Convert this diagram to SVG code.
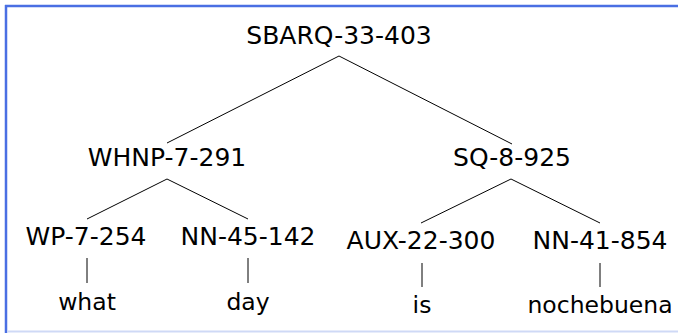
<svg xmlns="http://www.w3.org/2000/svg" width="678" height="333" viewBox="0 0 678 333">
  <style>
    .lbl { font-family: "DejaVu Sans", "Liberation Sans", sans-serif; font-size: 25px; fill: #000; text-anchor: middle; }
    .leaf { font-family: "DejaVu Sans", "Liberation Sans", sans-serif; font-size: 23.5px; fill: #000; text-anchor: middle; }
    .edge { stroke: #000; stroke-width: 1; fill: none; }
  </style>
  <rect width="678" height="333" fill="#fff"/>
  <!-- frame -->
  <line x1="5" y1="6" x2="678" y2="6" stroke="#4a6fe3" stroke-width="2.5"/>
  <line x1="6" y1="5" x2="6" y2="333" stroke="#4a6fe3" stroke-width="2.5"/>
  <line x1="7" y1="331.5" x2="678" y2="331.5" stroke="#cfd9f6" stroke-width="2"/>

  <g id="connectors">
    <polyline class="edge" points="167,143 339,56 512,144"/>
    <polyline class="edge" points="87,219 167,179 248,219"/>
    <polyline class="edge" points="421,223 511,179 600,223"/>
    <line class="edge" x1="87" y1="258" x2="87" y2="283"/>
    <line class="edge" x1="248" y1="258" x2="248" y2="283"/>
    <line class="edge" x1="422" y1="263" x2="422" y2="287"/>
    <line class="edge" x1="600" y1="263" x2="600" y2="287"/>
  </g>

  <g id="n-sbarq"><text class="lbl" x="339" y="44">SBARQ-33-403</text></g>
  <g id="n-whnp"><text class="lbl" x="167" y="166">WHNP-7-291</text></g>
  <g id="n-sq"><text class="lbl" x="512" y="166">SQ-8-925</text></g>
  <g id="n-wp"><text class="lbl" x="86" y="245">WP-7-254</text></g>
  <g id="n-nn45"><text class="lbl" x="248" y="245">NN-45-142</text></g>
  <g id="n-aux"><text class="lbl" x="421" y="249">AUX-22-300</text></g>
  <g id="n-nn41"><text class="lbl" x="600" y="249">NN-41-854</text></g>
  <g id="l-what"><text class="leaf" x="87" y="310">what</text></g>
  <g id="l-day"><text class="leaf" x="248" y="310">day</text></g>
  <g id="l-is"><text class="leaf" x="422" y="313">is</text></g>
  <g id="l-noche"><text class="leaf" x="600" y="313">nochebuena</text></g>
</svg>
